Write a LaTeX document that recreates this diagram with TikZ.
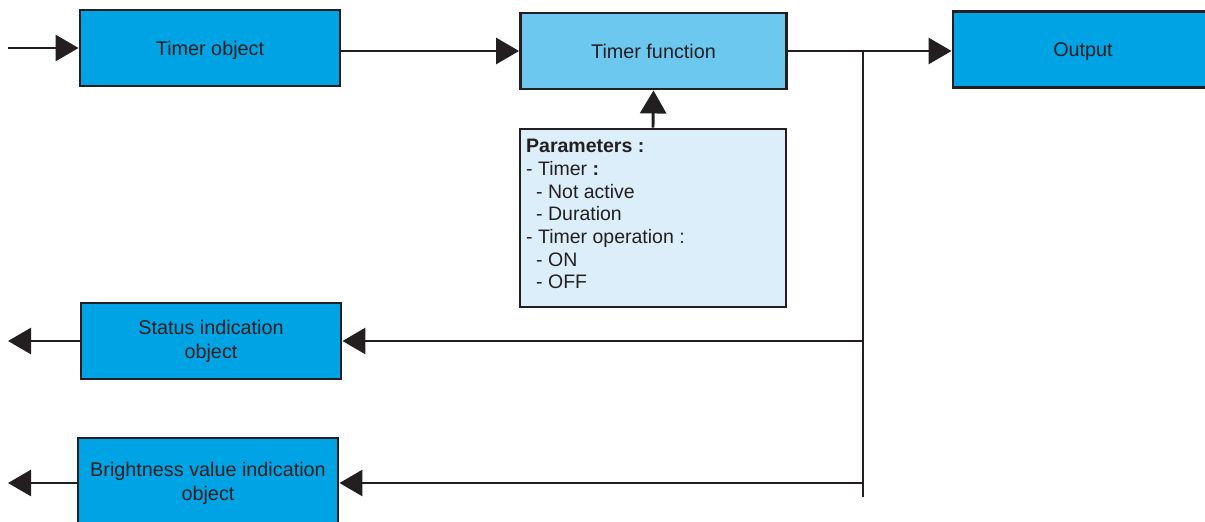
\documentclass[tikz,border=0pt]{standalone}
\usepackage{fontspec}
\setmainfont{Liberation Sans}
\usetikzlibrary{arrows.meta}
\definecolor{ink}{HTML}{231F20}
\definecolor{boxblue}{HTML}{00A3E4}
\definecolor{funcblue}{HTML}{6DC8F0}
\definecolor{parblue}{HTML}{DCEEF9}
\begin{document}
\begin{tikzpicture}[x=1pt,y=-1pt,
  box/.style={draw=ink, line width=2.9pt, fill=boxblue, minimum width=260pt, minimum height=76pt,
    inner sep=0pt, text=ink, font=\fontsize{19.8}{24}\selectfont, align=center},
  oneline/.style={text height=14pt, text depth=0pt},
  conn/.style={draw=ink, line width=2.9pt, -{Triangle[length=23pt,width=26pt]}},
  wire/.style={draw=ink, line width=2.9pt}]
\useasboundingbox (0,0) rectangle (1205,522);
\clip (0,0) rectangle (1205,522);
% boxes
\node[box, oneline] (tobj) at (210,48) {Timer object};
\node[box, oneline, fill=funcblue, minimum width=266pt] (tfun) at (653.5,51) {Timer function};
\node[box, oneline] (out) at (1083,49.5) {Output};
\node[box] (status) at (211,341) {Status indication\\object};
\node[box, minimum height=90pt] (bright) at (208,483) {Brightness value indication\\object};
\node[box, fill=parblue, minimum width=266pt, minimum height=178pt] (par) at (653,218) {};
\node[anchor=north west, inner sep=0pt, align=left, text=ink,
  font=\fontsize{19.5}{22.7}\selectfont] (ptext) at (526,139)
  {\textbf{Parameters :}\\
   - Timer \textbf{:}\\
   \hspace*{10pt}- Not active\\
   \hspace*{10pt}- Duration\\
   - Timer operation :\\
   \hspace*{10pt}- ON\\
   \hspace*{10pt}- OFF};
% coordinates
\coordinate (in) at (8,48);
\coordinate (os) at (8,341);
\coordinate (ob) at (8,483);
\coordinate (jt) at (863,51);
\coordinate (jb) at (863,497);
% connectors
\draw[conn] (in) -- (tobj.west);
\draw[conn] (tobj.east |- tfun.west) -- (tfun.west);
\draw[conn] (tfun.east) -- (tfun.east -| out.west);
\draw[wire] (jt) -- (jb);
\draw[conn] (jt |- status.east) -- (status.east);
\draw[conn] (jt |- bright.east) -- (bright.east);
\draw[conn] (status.west) -- (os);
\draw[conn] (bright.west) -- (ob);
\draw[conn] (par.north) -- (tfun.south);
\end{tikzpicture}
\end{document}
